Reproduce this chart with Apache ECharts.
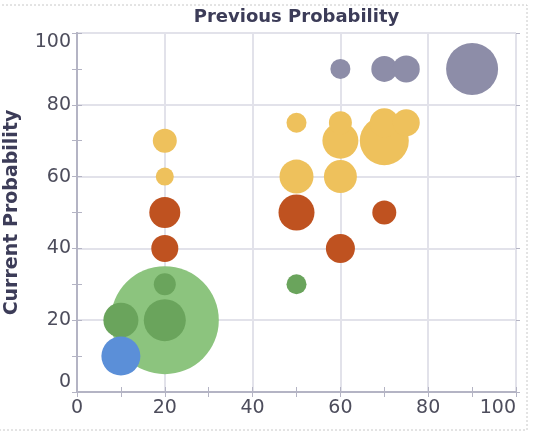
<!DOCTYPE html>
<html>
<head>
<meta charset="utf-8">
<script src="https://cdn.jsdelivr.net/npm/echarts@6/dist/echarts.min.js"></script>
<style>
  html, body { margin: 0; padding: 0; background: #fff; }
  #bubble_chart { width: 533px; height: 431px; }
</style>
</head>
<body>
<div id="bubble_chart"></div>
<script>
// [previous, current, bubble size]
var grayData = [[60, 90, 20], [70, 90, 26], [75, 90, 27], [90, 90, 52]];
var yellowData = [[20, 70, 24], [20, 60, 18], [50, 75, 20], [50, 60, 34], [60, 70, 36],
    [60, 75, 23], [60, 60, 33], [70, 70, 49], [70, 75, 29], [75, 75, 27]];
var redData = [[20, 50, 31], [20, 40, 27], [50, 50, 36], [70, 50, 24], [60, 40, 29]];
var greenLarge = [[20, 20, 108]];
var greenData = [[20, 30, 22], [50, 30, 20], [10, 20, 35], [20, 20, 42]];
var blueData = [[10, 10, 39]];
var axisTicks = [0, 20, 40, 60, 80, 100];

var labelFont = { color: '#4d4d5c', fontSize: 19, fontFamily: 'DejaVu Sans' };
var nameFont = { color: '#3c3c58', fontSize: 18, fontWeight: 'bold', fontFamily: 'DejaVu Sans' };
var borderLine = { show: true, lineStyle: { color: '#b4b4c4', width: 2 } };

function bubbles(name, data, color, z) {
    return {
        name: name,
        type: 'scatter',
        data: data,
        z: z,
        symbolSize: function (d) { return d[2]; },
        itemStyle: { color: color, opacity: 1 },
        emphasis: { disabled: true }
    };
}

bubble_option = {
    animation: false,
    graphic: [{
        type: 'rect',
        shape: { x: -2, y: 5, width: 529, height: 425 },
        style: { fill: 'none', stroke: '#c8c8c8', lineDash: [2, 2], lineWidth: 1 },
        silent: true
    }],
    grid: { left: 77, right: 17, top: 33, bottom: 39, outerBoundsMode: 'none', containLabel: false },
    xAxis: [
        {
            type: 'value', min: 0, max: axisTicks[axisTicks.length - 1], interval: 20,
            position: 'bottom',
            axisLine: borderLine,
            axisTick: { show: true, inside: false, length: 4, lineStyle: { color: '#b4b4c4' } },
            splitLine: { show: true, lineStyle: { color: '#e2e2ea', width: 2 } },
            axisLabel: Object.assign({ margin: 7, alignMaxLabel: 'right' }, labelFont)
        },
        {
            type: 'value', min: 0, max: 100, interval: 10, position: 'bottom',
            axisLine: { show: false },
            axisTick: { show: true, inside: true, length: 5, lineStyle: { color: '#b4b4c4' } },
            splitLine: { show: false }, axisLabel: { show: false }
        },
        {
            type: 'value', min: 0, max: 100, interval: 10, position: 'top',
            name: 'Previous Probability', nameLocation: 'middle', nameGap: 7,
            nameTextStyle: nameFont,
            axisLine: borderLine,
            axisTick: { show: true, inside: true, length: 5, lineStyle: { color: '#b4b4c4' } },
            splitLine: { show: false }, axisLabel: { show: false }
        }
    ],
    yAxis: [
        {
            type: 'value', min: 0, max: 100, interval: 20,
            position: 'left',
            name: 'Current Probability', nameLocation: 'middle', nameGap: 55,
            nameTextStyle: Object.assign({}, nameFont, { fontSize: 19 }),
            axisLine: borderLine,
            axisTick: { show: true, inside: false, length: 4, lineStyle: { color: '#b4b4c4' } },
            splitLine: { show: true, lineStyle: { color: '#e2e2ea', width: 2 } },
            axisLabel: Object.assign({ margin: 6, verticalAlignMinLabel: 'bottom', verticalAlignMaxLabel: 'top' }, labelFont)
        },
        {
            type: 'value', min: 0, max: 100, interval: 10, position: 'left',
            axisLine: { show: false },
            axisTick: { show: true, inside: true, length: 5, lineStyle: { color: '#b4b4c4' } },
            splitLine: { show: false }, axisLabel: { show: false }
        },
        {
            type: 'value', min: 0, max: 100, interval: 10, position: 'right',
            axisLine: borderLine,
            axisTick: { show: true, inside: true, length: 5, lineStyle: { color: '#b4b4c4' } },
            splitLine: { show: false }, axisLabel: { show: false }
        },
        {
            type: 'value', min: 0, max: 100, interval: 20, position: 'right',
            axisLine: { show: false },
            axisTick: { show: true, inside: false, length: 4, lineStyle: { color: '#b4b4c4' } },
            splitLine: { show: false }, axisLabel: { show: false }
        }
    ],
    series: [
        bubbles('Green large', greenLarge, '#8cc47e', 2),
        bubbles('Green', greenData, '#6aa45c', 3),
        bubbles('Blue', blueData, '#5b8fd8', 4),
        bubbles('Red', redData, '#bf5220', 3),
        bubbles('Yellow', yellowData, '#eec15c', 3),
        bubbles('Gray', grayData, '#8d8da8', 3)
    ]
};

var bubble_chart = echarts.init(document.getElementById('bubble_chart'));
bubble_chart.setOption(bubble_option);
</script>
</body>
</html>
